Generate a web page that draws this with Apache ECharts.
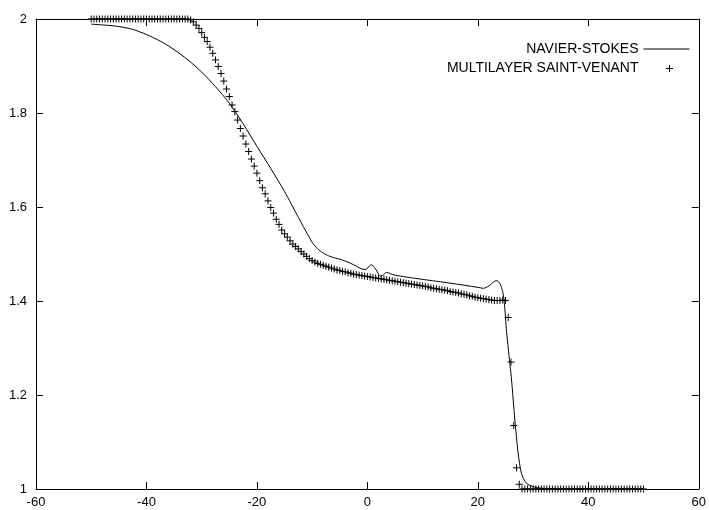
<!DOCTYPE html>
<html>
<head>
<meta charset="utf-8">
<script src="https://cdn.jsdelivr.net/npm/echarts@6/dist/echarts.min.js"></script>
<style>html,body{margin:0;padding:0;background:#fff}#c{width:709px;height:510px}</style>
</head>
<body>
<div id="c"></div>
<script>
// Navier-Stokes (solid line)
var nsX = [-50,-47.5,-45,-42.5,-40,-37.5,-35,-32.5,-30,-27.5,-25,-22.5,-20,-17.5,-15,-12.5,-10,-9,-8,-7,-6,-5,-4,-3,-2,-1,-0.3,0.4,0.8,1.3,1.8,2.3,2.8,3.5,4.2,5,7,10,15,20,21,22,23,23.5,24,24.5,24.8,25.2,25.5,26.1,26.7,27.3,27.9,28.8,30.3,32,35,50];
var nsY = [1.989,1.987,1.984,1.978,1.967,1.953,1.935,1.913,1.887,1.856,1.821,1.777,1.729,1.682,1.633,1.578,1.525,1.511,1.502,1.496,1.492,1.489,1.485,1.480,1.474,1.468,1.467,1.475,1.477,1.471,1.462,1.453,1.455,1.461,1.458,1.455,1.451,1.446,1.438,1.429,1.427,1.432,1.442,1.443,1.437,1.420,1.395,1.335,1.300,1.232,1.147,1.076,1.033,1.012,1.004,1.001,1.0,1.0];

// Multilayer Saint-Venant (+ markers)
var svX = [
-50,-49.5,-49,-48.5,-48,-47.5,-47,-46.5,-46,-45.5,
-45,-44.5,-44,-43.5,-43,-42.5,-42,-41.5,-41,-40.5,
-40,-39.5,-39,-38.5,-38,-37.5,-37,-36.5,-36,-35.5,
-35,-34.5,-34,-33.5,-33,-32.5,-32,-31.5,-31,-30.5,
-30,-29.5,-29,-28.5,-28,-27.5,-27,-26.5,-26,-25.5,
-25,-24.5,-24,-23.5,-23,-22.5,-22,-21.5,-21,-20.5,
-20,-19.5,-19,-18.5,-18,-17.5,-17,-16.5,-16,-15.5,
-15,-14.5,-14,-13.5,-13,-12.5,-12,-11.5,-11,-10.5,
-10,-9.5,-9,-8.5,-8,-7.5,-7,-6.5,-6,-5.5,
-5,-4.5,-4,-3.5,-3,-2.5,-2,-1.5,-1,-0.5,
0,0.5,1,1.5,2,2.5,3,3.5,4,4.5,
5,5.5,6,6.5,7,7.5,8,8.5,9,9.5,
10,10.5,11,11.5,12,12.5,13,13.5,14,14.5,
15,15.5,16,16.5,17,17.5,18,18.5,19,19.5,
20,20.5,21,21.5,22,22.5,23,23.5,24,24.5,
25,25.5,26,26.5,27,27.5,28,28.5,29,29.5,
30,30.5,31,31.5,32,32.5,33,33.5,34,34.5,
35,35.5,36,36.5,37,37.5,38,38.5,39,39.5,
40,40.5,41,41.5,42,42.5,43,43.5,44,44.5,
45,45.5,46,46.5,47,47.5,48,48.5,49,49.5,
50];
var svY = [
2,2,2,2,2,2,2,2,2,2,
2,2,2,2,2,2,2,2,2,2,
2,2,2,2,2,2,2,2,2,2,
2,2,2,2,2,2,1.998,1.994,1.987,1.980,
1.971,1.961,1.952,1.940,1.927,1.913,1.899,1.884,1.868,1.851,
1.835,1.817,1.803,1.785,1.767,1.751,1.734,1.718,1.702,1.687,
1.672,1.656,1.641,1.628,1.613,1.599,1.587,1.574,1.563,1.551,
1.543,1.536,1.528,1.521,1.516,1.511,1.505,1.500,1.495,1.490,
1.486,1.483,1.480,1.478,1.476,1.474,1.472,1.470,1.468,1.466,
1.465,1.463,1.462,1.460,1.459,1.457,1.456,1.455,1.454,1.453,
1.452,1.451,1.450,1.449,1.448,1.447,1.446,1.445,1.444,1.443,
1.442,1.441,1.440,1.439,1.438,1.437,1.436,1.435,1.434,1.433,
1.432,1.431,1.430,1.428,1.427,1.426,1.425,1.424,1.423,1.422,
1.420,1.419,1.418,1.417,1.415,1.414,1.413,1.411,1.410,1.408,
1.407,1.406,1.405,1.404,1.403,1.402,1.401,1.401,1.401,1.402,
1.401,1.365,1.270,1.135,1.045,1.010,1,1,1,1,
1,1,1,1,1,1,1,1,1,1,
1,1,1,1,1,1,1,1,1,1,
1,1,1,1,1,1,1,1,1,1,
1,1,1,1,1,1,1,1,1,1,
1];

var xTicks = [-60, 60, 20];   // min, max, interval
var yTicks = [1, 2, 0.2];
var names = ['NAVIER-STOKES', 'MULTILAYER SAINT-VENANT'];

var FONT = 'Liberation Sans, Arial, Helvetica, sans-serif';
function zip(a, b) { return a.map(function (v, i) { return [v, b[i]]; }); }

function axisX(pos, showLabel) {
  return {
    type: 'value', position: pos, min: xTicks[0], max: xTicks[1], interval: xTicks[2],
    axisLine: { show: true, onZero: false, lineStyle: { color: '#000', width: 1 } },
    axisTick: { show: true, inside: true, length: 7, lineStyle: { color: '#000', width: 1 } },
    axisLabel: { show: showLabel, color: '#000', fontSize: 13, fontFamily: FONT, margin: 7, showMinLabel: true, showMaxLabel: true },
    splitLine: { show: false }
  };
}
function axisY(pos, showLabel) {
  return {
    type: 'value', position: pos, min: yTicks[0], max: yTicks[1], interval: yTicks[2],
    axisLine: { show: true, onZero: false, lineStyle: { color: '#000', width: 1 } },
    axisTick: { show: true, inside: true, length: 7, lineStyle: { color: '#000', width: 1 } },
    axisLabel: { show: showLabel, color: '#000', fontSize: 13, fontFamily: FONT, margin: 9, showMinLabel: true, showMaxLabel: true },
    splitLine: { show: false }
  };
}

var chart = echarts.init(document.getElementById('c'), null, { renderer: 'canvas' });
chart.setOption({
  animation: false,
  backgroundColor: '#fff',
  grid: { left: 36, right: 8, top: 19, bottom: 21, containLabel: false },
  xAxis: [axisX('bottom', true), axisX('top', false)],
  yAxis: [axisY('left', true), axisY('right', false)],
  legend: {
    orient: 'vertical', align: 'right', right: 19, top: 42, padding: 0,
    itemWidth: 46, itemHeight: 14, itemGap: 5,
    textStyle: { color: '#000', fontSize: 14, fontFamily: FONT },
    data: [
      { name: names[0],
        itemStyle: { color: 'rgba(0,0,0,0)', borderColor: 'rgba(0,0,0,0)', borderWidth: 0 },
        lineStyle: { color: '#000', width: 1 } },
      { name: names[1], icon: 'path://M0,0M46,14M22.5,7L29.5,7M26,3.5L26,10.5',
        itemStyle: { color: 'rgba(0,0,0,0)', borderColor: '#000', borderWidth: 1 } }
    ]
  },
  series: [
    {
      name: names[0], type: 'line', xAxisIndex: 0, yAxisIndex: 0,
      data: zip(nsX, nsY), symbol: 'none', showSymbol: false,
      smooth: 0.25,
      lineStyle: { color: '#000', width: 1 }, itemStyle: { color: '#000' },
      clip: false, z: 3
    },
    {
      name: names[1], type: 'scatter', xAxisIndex: 0, yAxisIndex: 0,
      data: zip(svX, svY), symbol: 'path://M0,5L10,5M5,0L5,10', symbolSize: 7,
      itemStyle: { color: 'rgba(0,0,0,0)', borderColor: '#000', borderWidth: 1, opacity: 1 },
      clip: false, z: 2
    }
  ]
});
</script>
</body>
</html>
